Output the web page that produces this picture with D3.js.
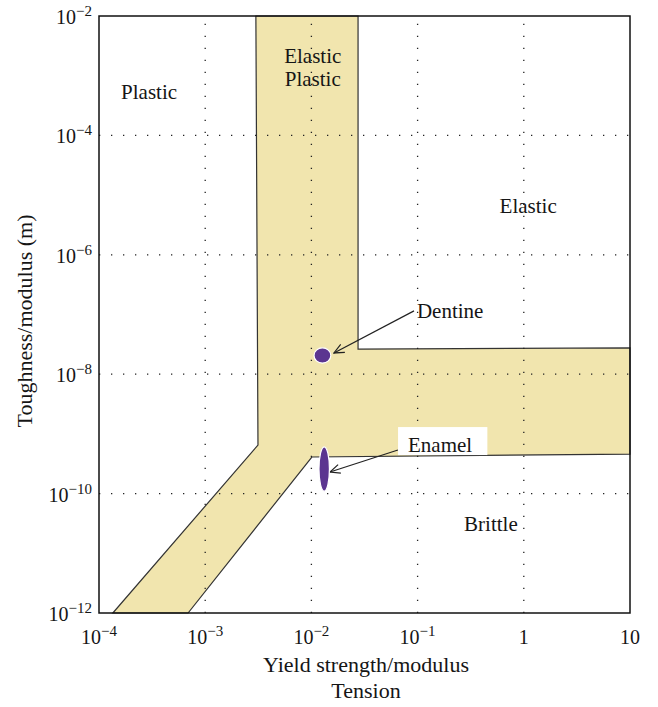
<!DOCTYPE html>
<html><head><meta charset="utf-8">
<script src="https://cdnjs.cloudflare.com/ajax/libs/d3/7.8.5/d3.min.js"></script>
<style>
body{margin:0;background:#fff;}
text{font-family:"Liberation Serif","DejaVu Serif",serif;fill:#151515;}
</style></head><body>
<svg id="chart" width="658" height="707"></svg>
<script>
// ---- data ----
const xTicks = [1e-4, 1e-3, 1e-2, 1e-1, 1, 10];
const xTickBases = ["10", "10", "10", "10", "1", "10"];
const xTickExps = ["−4", "−3", "−2", "−1", "", ""];
const yTicks = [1e-12, 1e-10, 1e-8, 1e-6, 1e-4, 1e-2];
const yTickBases = ["10", "10", "10", "10", "10", "10"];
const yTickExps = ["−12", "−10", "−8", "−6", "−4", "−2"];

// elastic-plastic band outline (yield strength/modulus, toughness/modulus)
const bandX = [3.0e-3, 2.75e-2, 2.75e-2, 10, 10, 1.01e-2, 6.9e-4, 1.35e-4, 3.14e-3];
const bandY = [1e-2, 1e-2, 2.64e-8, 2.75e-8, 4.6e-10, 4.1e-10, 1e-12, 1e-12, 6.5e-10];

// materials
const materials = ["Dentine", "Enamel"];
const matX = [1.27e-2, 1.32e-2];
const matY = [2.06e-8, 2.58e-10];
const matSpreadX = [1.2, 1.12];   // multiplicative half-extent
const matSpreadY = [1.34, 2.35];
const matLabelX = [0.0986, 0.0813];
const matLabelY = [1.15e-7, 6.5e-10];
const arrowFromX = [0.0925, 0.0653];
const arrowFromY = [1.15e-7, 5.37e-10];
const arrowToX = [0.0163, 0.01496];
const arrowToY = [2.27e-8, 2.3e-10];

// region labels
const regionText = ["Plastic", "Elastic", "Plastic", "Elastic", "Brittle"];
const regionX = [2.96e-4, 1.03e-2, 1.03e-2, 1.1, 0.49];
const regionY = [5.5e-4, 2.2e-3, 8.8e-4, 6.6e-6, 3.1e-11];

// ---- chart ----
const L = 99, R = 630, T = 16, B = 613;
const svg = d3.select("#chart");
const x = d3.scaleLog().domain([1e-4, 10]).range([L, R]);
const y = d3.scaleLog().domain([1e-12, 1e-2]).range([B, T]);

// band
const pts = bandX.map((v, i) => [x(v), y(bandY[i])]);
svg.append("path")
  .attr("d", d3.line()(pts) + "Z")
  .attr("fill", "#f1e5ae")
  .attr("stroke", "#333")
  .attr("stroke-width", 1.2);

// grid
const g = svg.append("g").attr("stroke", "#222").attr("stroke-width", 1.3)
  .attr("stroke-dasharray", "1.3,10.7");
g.selectAll(".gx").data(xTicks.slice(1, -1)).enter().append("line")
  .attr("x1", d => x(d)).attr("x2", d => x(d)).attr("y1", B).attr("y2", T);
g.selectAll(".gy").data(yTicks.slice(1, -1)).enter().append("line")
  .attr("y1", d => y(d)).attr("y2", d => y(d)).attr("x1", L).attr("x2", R);

// frame
svg.append("rect").attr("x", L).attr("y", T).attr("width", R - L).attr("height", B - T)
  .attr("fill", "none").attr("stroke", "#111").attr("stroke-width", 1.5);

// region labels
svg.selectAll(".reg").data(regionText).enter().append("text")
  .attr("x", (d, i) => x(regionX[i])).attr("y", (d, i) => y(regionY[i]))
  .attr("dy", "0.35em").attr("text-anchor", "middle")
  .attr("font-size", 21).text(d => d);

// material labels (with white box for Enamel)
const defs = svg.append("defs");
defs.append("marker").attr("id", "arr").attr("viewBox", "0 0 12 12")
  .attr("refX", 11).attr("refY", 6).attr("markerWidth", 12).attr("markerHeight", 12)
  .attr("markerUnits", "userSpaceOnUse").attr("orient", "auto")
  .append("path").attr("d", "M1,1.5 L11,6 L1,10.5").attr("fill", "none")
  .attr("stroke", "#222").attr("stroke-width", 1.2);

materials.forEach((m, i) => {
  const t = svg.append("text")
    .attr("x", x(matLabelX[i])).attr("y", y(matLabelY[i]))
    .attr("dy", "0.35em").attr("font-size", 21).text(m);
  if (m === "Enamel") {
    const bb = t.node().getBBox();
    svg.insert("rect", () => t.node())
      .attr("x", bb.x - 10).attr("y", y(matLabelY[i]) - 18)
      .attr("width", bb.width + 25).attr("height", 28).attr("fill", "#fff");
  }
  svg.append("line")
    .attr("x1", x(arrowFromX[i])).attr("y1", y(arrowFromY[i]))
    .attr("x2", x(arrowToX[i])).attr("y2", y(arrowToY[i]))
    .attr("stroke", "#222").attr("stroke-width", 1.2).attr("marker-end", "url(#arr)");
  const cx = x(matX[i]), cy = y(matY[i]);
  svg.append("ellipse").attr("cx", cx).attr("cy", cy)
    .attr("rx", x(matX[i] * matSpreadX[i]) - cx)
    .attr("ry", cy - y(matY[i] * matSpreadY[i]))
    .attr("fill", "#5b3590").attr("stroke", "#fff").attr("stroke-width", 1.2);
});

// tick labels
function tickLabel(sel, base, exp) {
  sel.append("tspan").attr("font-size", 20).text(base);
  if (exp) sel.append("tspan").attr("font-size", 15).attr("dy", -8).text(exp);
}
xTicks.forEach((v, i) => {
  const t = svg.append("text").attr("x", x(v)).attr("y", B + 31).attr("text-anchor", "middle");
  tickLabel(t, xTickBases[i], xTickExps[i]);
});
yTicks.forEach((v, i) => {
  const t = svg.append("text").attr("x", L - 7).attr("y", y(v) + 8).attr("text-anchor", "end");
  tickLabel(t, yTickBases[i], yTickExps[i]);
});

// axis titles
svg.append("text").attr("x", 366).attr("y", 672).attr("text-anchor", "middle")
  .attr("font-size", 22).text("Yield strength/modulus");
svg.append("text").attr("x", 366).attr("y", 698).attr("text-anchor", "middle")
  .attr("font-size", 22).text("Tension");
svg.append("text").attr("transform", "translate(32,321) rotate(-90)")
  .attr("text-anchor", "middle").attr("font-size", 22).text("Toughness/modulus (m)");
</script>
</body></html>
